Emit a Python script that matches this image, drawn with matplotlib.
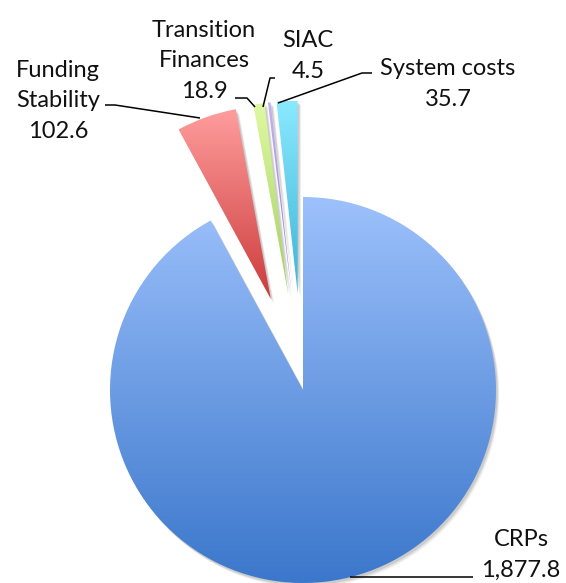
import numpy as np
import matplotlib
matplotlib.use("Agg")
import matplotlib.pyplot as plt
from matplotlib.colors import LinearSegmentedColormap
from matplotlib.patches import Shadow

plt.rcParams['font.family'] = ['Lato', 'DejaVu Sans']

# data (clockwise from 12 o'clock)
names = ['CRPs', 'Funding\nStability', 'Transition\nFinances', 'SIAC', 'System costs']
values = [1877.8, 102.6, 18.9, 4.5, 35.7]
explode_frac = [0, 0.5, 0.5, 0.5, 0.5]

# gradient colours per slice (top, bottom)
grads = [('#9dc1fc', '#3b77cb'),
         ('#ff9d9d', '#cc3b3b'),
         ('#dff9a3', '#a2cf5e'),
         ('#c6b2ee', '#8f7bcb'),
         ('#8ae9ff', '#3db3d6')]

W, H = 566, 583
fig = plt.figure(figsize=(W / 100, H / 100), dpi=100)
ax = fig.add_axes([0, 0, 1, 1])

# everything below in pixel units, y pointing up
cx, cy, R = 303, H - 390, 193

wedges, _ = ax.pie(values, startangle=90, counterclock=False,
                   explode=[e * R for e in explode_frac],
                   radius=R, center=(cx, cy), frame=False,
                   wedgeprops=dict(linewidth=0))

for w, (c_top, c_bot) in zip(wedges, grads):
    # soft shadow
    for k, a in [(4, 0.05), (3, 0.07), (2, 0.09)]:
        sh = Shadow(w, k * 0.6, -k * 0.8, shade=0.2, zorder=0.5)
        sh.set_alpha(a)
        sh.set_facecolor('black')
        ax.add_patch(sh)
    bb = w.get_path().get_extents()
    cmap = LinearSegmentedColormap.from_list('g', [c_top, c_bot])
    im = ax.imshow(np.linspace(0, 1, 256).reshape(-1, 1), cmap=cmap,
                   extent=(bb.x0, bb.x1, bb.y0, bb.y1), origin='upper',
                   aspect='auto', interpolation='bilinear', zorder=1)
    im.set_clip_path(w)
    w.set_facecolor('none')
    w.set_zorder(2)

# labels: last-line baseline positions (pixels from top)
label_pos = [(521, 577), (58, 138), (204, 98), (308, 78), (448, 106)]
leaders = [
    [(350, 577), (473, 577)],
    [(105, 105), (115, 105), (200, 118)],
    [(235, 98), (247, 98), (255, 107)],
    [(275, 78), (270, 78), (263, 107)],
    [(372, 73), (362, 73), (278, 103)],
]

for name, v, (x, y), pts in zip(names, values, label_pos, leaders):
    ax.text(x, H - y, f"{name}\n{v:,.1f}", ha='center', va='baseline',
            fontsize=17, linespacing=1.56, color='#111111', zorder=5)
    xs, ys = zip(*pts)
    ax.plot(xs, [H - yy for yy in ys], color='black', lw=1.1, zorder=4,
            solid_capstyle='butt')

ax.set_xlim(0, W)
ax.set_ylim(0, H)
ax.set_aspect('equal')
ax.axis('off')

fig.savefig('out.png', dpi=100, facecolor='white')
